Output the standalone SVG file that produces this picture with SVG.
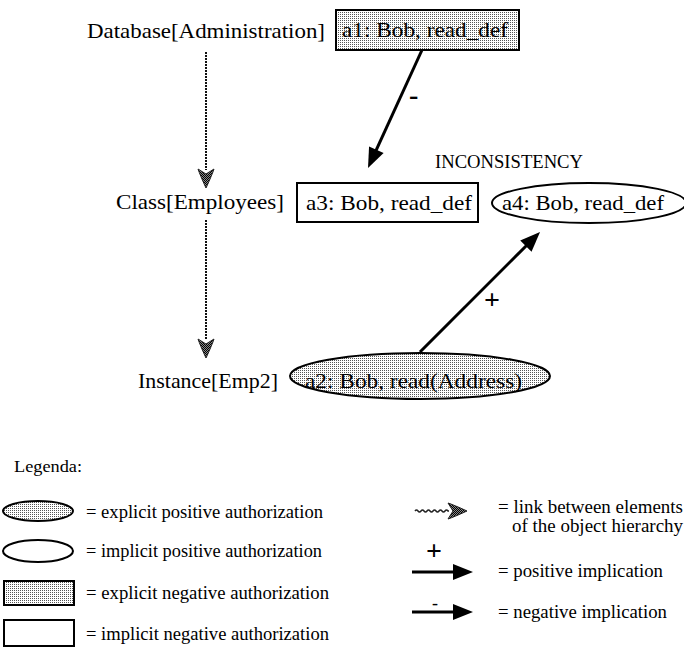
<svg xmlns="http://www.w3.org/2000/svg" width="684" height="650" viewBox="0 0 684 650">
  <defs>
    <pattern id="stipple" width="2" height="2" patternUnits="userSpaceOnUse">
      <rect width="2" height="2" fill="#ffffff"/>
      <rect width="1" height="1" fill="#555555"/>
    </pattern>
    <pattern id="darkStipple" width="2" height="2" patternUnits="userSpaceOnUse">
      <rect width="2" height="2" fill="#888888"/>
      <rect width="1" height="1" fill="#000000"/>
      <rect x="1" y="1" width="1" height="1" fill="#000000"/>
    </pattern>
    <marker id="solidHead" markerUnits="userSpaceOnUse" markerWidth="22" markerHeight="18" refX="2" refY="8" orient="auto" overflow="visible">
      <path d="M0,0 L20,8 L0,16 z" fill="#000"/>
    </marker>
    <marker id="hierHead" markerUnits="userSpaceOnUse" markerWidth="22" markerHeight="18" refX="1" refY="8" orient="auto" overflow="visible">
      <path d="M0,0 Q6,2 19,8 Q6,14 0,16 L5,8 z" fill="url(#darkStipple)" stroke="#222" stroke-width="1"/>
    </marker>
  </defs>
  <style>
    text { font-family: "Liberation Serif", "Times New Roman", serif; fill: #000; }
    .lbl { font-size: 22px; }
    .small { font-size: 18px; }
    .leg { font-size: 18px; }
    .sign { font-size: 28px; font-weight: bold; }
    .explicit { fill: url(#stipple); stroke: #000; stroke-width: 2; }
    .implicit { fill: #fff; stroke: #000; stroke-width: 2; }
    .hier { fill: none; stroke: #111; stroke-width: 2; stroke-dasharray: 2 1; marker-end: url(#hierHead); }
    .impl { fill: none; stroke: #000; stroke-width: 3; marker-end: url(#solidHead); }
    .wavy { fill: none; stroke: #222; stroke-width: 1.5; marker-end: url(#hierHead); }
  </style>

  <g id="node-database">
    <text class="lbl" x="87" y="38" textLength="238" lengthAdjust="spacingAndGlyphs">Database[Administration]</text>
  </g>
  <g id="node-a1">
    <rect class="explicit" x="336" y="10" width="183" height="40"/>
    <text class="lbl" x="342" y="37" textLength="166" lengthAdjust="spacingAndGlyphs">a1: Bob, read_def</text>
  </g>
  <g id="node-class">
    <text class="lbl" x="116" y="209" textLength="168" lengthAdjust="spacingAndGlyphs">Class[Employees]</text>
  </g>
  <g id="node-a3">
    <rect class="implicit" x="297" y="183" width="181" height="39"/>
    <text class="lbl" x="306" y="210" textLength="166" lengthAdjust="spacingAndGlyphs">a3: Bob, read_def</text>
  </g>
  <g id="label-inconsistency">
    <text class="small" x="435" y="168" textLength="148" lengthAdjust="spacingAndGlyphs">INCONSISTENCY</text>
  </g>
  <g id="node-a4">
    <ellipse class="implicit" cx="589" cy="203" rx="97" ry="20"/>
    <text class="lbl" x="502" y="210" textLength="162" lengthAdjust="spacingAndGlyphs">a4: Bob, read_def</text>
  </g>
  <g id="node-instance">
    <text class="lbl" x="138" y="388" textLength="140" lengthAdjust="spacingAndGlyphs">Instance[Emp2]</text>
  </g>
  <g id="node-a2">
    <ellipse class="explicit" cx="420" cy="376" rx="130" ry="23"/>
    <text class="lbl" x="305" y="388" textLength="217" lengthAdjust="spacingAndGlyphs">a2: Bob, read(Address)</text>
  </g>

  <g id="connectors">
    <line class="hier" x1="206" y1="52" x2="206" y2="170"/>
    <line class="hier" x1="206" y1="220" x2="206" y2="340"/>
    <line class="impl" x1="422" y1="50" x2="375.5" y2="151.6"/>
    <text class="sign" x="409" y="104">-</text>
    <line class="impl" x1="420" y1="352" x2="527.3" y2="244.7"/>
    <text class="sign" x="484" y="309">+</text>
  </g>

  <g id="legend">
    <text x="14" y="472" font-size="16" textLength="68" lengthAdjust="spacingAndGlyphs">Legenda:</text>
    <ellipse class="explicit" cx="38" cy="511" rx="35" ry="10"/>
    <text class="leg" x="86" y="518" textLength="237" lengthAdjust="spacingAndGlyphs">= explicit positive authorization</text>
    <ellipse class="implicit" cx="38" cy="551" rx="35" ry="11"/>
    <text class="leg" x="86" y="557" textLength="236" lengthAdjust="spacingAndGlyphs">= implicit positive authorization</text>
    <rect class="explicit" x="4" y="581" width="70" height="24"/>
    <text class="leg" x="86" y="599" textLength="243" lengthAdjust="spacingAndGlyphs">= explicit negative authorization</text>
    <rect class="implicit" x="4" y="620" width="70" height="26"/>
    <text class="leg" x="86" y="640" textLength="243" lengthAdjust="spacingAndGlyphs">= implicit negative authorization</text>

    <path class="wavy" d="M415,511 q1.5,-2 3,0 t3,0 t3,0 t3,0 t3,0 t3,0 t3,0 t3,0 t3,0 t3,0 t3,0 h1"/>
    <text class="leg" x="498" y="513" textLength="185" lengthAdjust="spacingAndGlyphs">= link between elements</text>
    <text class="leg" x="512" y="532" textLength="171" lengthAdjust="spacingAndGlyphs">of the object hierarchy</text>
    <text class="sign" x="426" y="560">+</text>
    <line class="impl" x1="412" y1="572" x2="455" y2="572"/>
    <text class="leg" x="498" y="577" textLength="165" lengthAdjust="spacingAndGlyphs">= positive implication</text>
    <text class="leg" x="432" y="609">-</text>
    <line class="impl" x1="412" y1="612" x2="455" y2="612"/>
    <text class="leg" x="498" y="618" textLength="169" lengthAdjust="spacingAndGlyphs">= negative implication</text>
  </g>
</svg>
